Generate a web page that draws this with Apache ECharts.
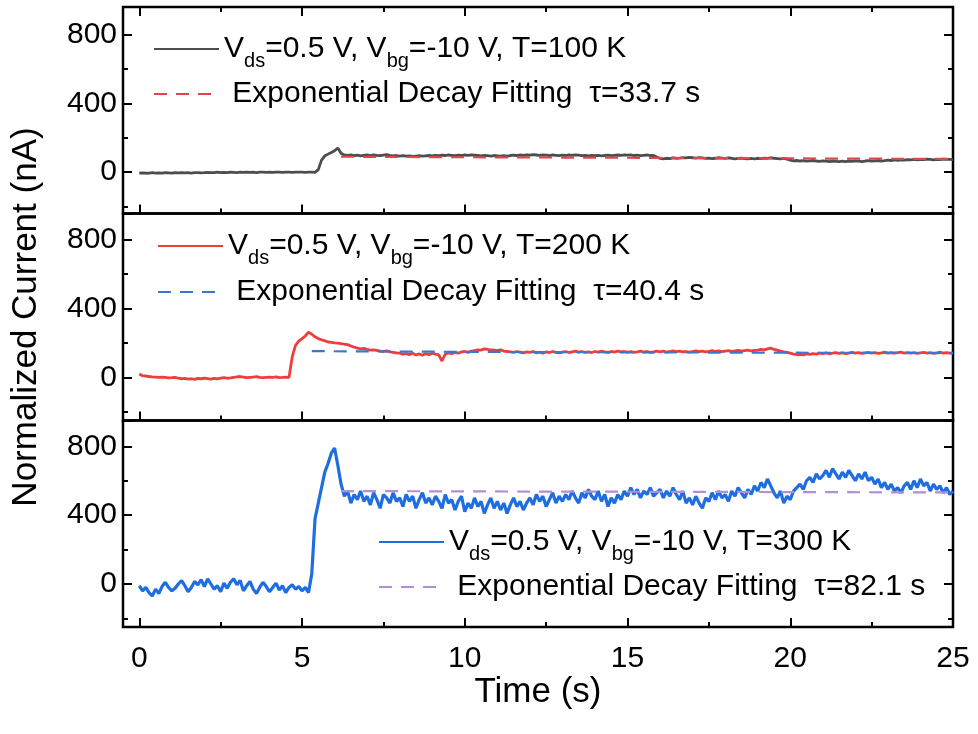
<!DOCTYPE html>
<html><head><meta charset="utf-8">
<script src="https://cdn.jsdelivr.net/npm/echarts@6/dist/echarts.min.js"></script>
<style>html,body{margin:0;padding:0;background:#fff}#c{width:978px;height:734px}</style>
</head><body><div id="c"></div>
<script>
// sampling grid of the recorded traces (s)
const timeStart = 0, timeStep = 0.1;

const current100K = [
-5,-4,-6,-5,-3,-5,-4,-6,-3,-4,
-5,-3,-4,-2,-4,-3,-5,-3,-2,-4,
-3,-1,-3,-2,0,-2,-1,-3,0,-1,
-2,0,-1,1,-1,0,-2,0,1,-1,
0,-1,1,0,-1,1,0,-1,0,1,
0,-1,0,1,-1,15,70,95,105,115,
125,140,110,100,98,100,96,99,95,98,
100,97,101,98,96,99,102,98,95,97,
94,96,93,95,92,94,96,93,95,97,
95,98,96,99,97,100,98,96,99,97,
100,98,101,99,97,95,98,96,94,97,
95,93,96,94,97,99,97,100,98,101,
99,102,100,98,101,99,97,100,98,96,
99,97,100,98,101,99,96,98,95,97,
96,98,95,97,99,96,98,100,98,101,
99,100,97,99,96,98,100,97,97,88,
80,78,81,79,83,80,82,85,83,86,
84,82,85,83,80,82,79,81,84,82,
80,83,81,78,80,82,79,77,80,78,
81,79,82,80,84,81,79,77,80,76,
70,66,68,65,67,64,66,68,65,63,
66,64,62,65,63,61,64,62,65,63,
66,64,62,65,67,64,66,68,65,67,
70,68,71,69,72,70,73,71,74,72,
75,73,76,74,72,75,73,76,74,75,
73];

const current200K = [
20,10,8,5,3,2,0,2,0,-3,
-2,0,-5,-8,-6,-10,-8,-12,-6,-8,
-5,-7,-10,-6,-9,-5,-2,-5,-3,0,
3,5,2,-2,0,2,4,0,-2,0,
2,0,3,-1,0,2,0,120,185,210,
225,240,262,250,235,225,218,212,205,203,
200,198,196,192,190,182,175,170,165,168,
162,158,160,156,152,150,154,148,145,142,
140,135,138,132,140,130,136,128,138,132,
140,135,130,95,135,142,138,145,140,148,
150,145,152,155,160,158,165,162,160,158,
155,160,152,150,148,145,150,146,142,148,
145,150,142,146,140,148,144,150,145,142,
146,150,144,148,152,146,150,145,148,144,
150,146,152,148,145,150,147,152,148,150,
146,150,145,148,152,147,150,145,148,152,
148,152,147,150,154,149,152,148,150,146,
150,154,149,152,148,151,155,150,153,149,
152,155,150,153,157,152,155,158,153,156,
158,162,160,165,170,162,158,152,148,145,
140,135,132,134,130,136,133,138,135,140,
138,142,137,140,144,139,142,138,141,145,
140,143,139,142,145,140,143,139,142,146,
141,144,140,143,146,141,144,140,143,139,
142,145,140,143,139,142,146,141,144,140,
142];

const current300K = [
-10,-40,-20,-50,-70,-30,-55,-15,10,-20,
-40,-25,0,20,-10,-45,-20,15,-5,25,
-15,30,0,-30,-10,-45,5,-25,10,30,
-5,20,-40,-10,15,-30,-55,-20,10,-15,
-45,-20,5,-35,-10,-50,-20,-5,-30,-15,
-40,-20,-50,60,380,470,560,650,700,760,
790,690,580,510,540,470,520,490,540,480,
510,460,530,490,440,520,500,470,530,480,
500,450,520,480,510,440,490,530,470,500,
460,510,480,440,520,470,490,430,480,510,
420,470,440,500,450,480,410,460,500,440,
480,430,470,410,460,500,450,480,430,470,
500,460,520,480,510,450,490,530,470,510,
480,520,490,540,500,470,530,500,550,510,
490,540,480,520,450,500,470,520,490,540,
510,560,520,550,500,540,520,560,510,530,
550,500,540,510,560,520,490,540,470,500,
460,510,470,440,500,480,530,490,540,500,
520,480,540,510,560,530,500,550,520,570,
540,590,560,610,570,530,500,540,470,510,
490,540,560,580,550,600,620,590,640,610,
630,660,620,670,640,610,650,620,660,630,
600,640,610,650,600,620,580,610,560,590,
550,580,540,560,530,570,590,550,600,560,
610,570,590,540,580,550,570,530,560,520,
540];

const fit100KTime = [6.2, 10, 15, 20, 25];
const fit100KValue = [90, 87, 84, 80, 77];
const fit200KTime = [5.3, 10, 15, 20, 25];
const fit200KValue = [152, 148, 145, 143, 141];
const fit300KTime = [6.2, 10, 15, 20, 25];
const fit300KValue = [540, 538, 536, 534, 532];

const xTickLabels = [0, 5, 10, 15, 20, 25];
const yTickLabels = [0, 400, 800];

const legendText = {
  T100: '{n|V}{s|ds}{n|=0.5 V, V}{s|bg}{n|=-10 V, T=100 K}',
  F100: '{n| Exponential Decay Fitting  τ=33.7 s}',
  T200: '{n|V}{s|ds}{n|=0.5 V, V}{s|bg}{n|=-10 V, T=200 K}',
  F200: '{n| Exponential Decay Fitting  τ=40.4 s}',
  T300: '{n|V}{s|ds}{n|=0.5 V, V}{s|bg}{n|=-10 V, T=300 K}',
  F300: '{n| Exponential Decay Fitting  τ=82.1 s}'
};

const FONT = '"Liberation Sans", Arial, Helvetica, sans-serif';
function trace(vals) { return vals.map((v, i) => [+(timeStart + i * timeStep).toFixed(2), v]); }
function zip(xs, ys) { return xs.map((x, i) => [x, ys[i]]); }

const grids = [
  {top: 7, height: 206.5, ymin: -240, ymax: 960},
  {top: 213.5, height: 207, ymin: -250, ymax: 950},
  {top: 420.5, height: 206.5, ymin: -250, ymax: 950}
];

const xAxes = [], yAxes = [];
function xAx(g, pos, step, len, labels, name) {
  xAxes.push({
    type: 'value', gridIndex: g, position: pos, min: -0.5, max: 25,
    minInterval: step, maxInterval: step, splitNumber: Math.round(25.5 / step),
    axisLine: {show: false, onZero: false}, splitLine: {show: false},
    axisTick: {show: true, inside: true, length: len, lineStyle: {color: '#000', width: 2}},
    axisLabel: {show: labels, margin: 17, color: '#000', fontSize: 30, fontFamily: FONT,
      formatter: v => xTickLabels.includes(v) ? String(v) : ''},
    name: name || '', nameLocation: 'middle', nameGap: 38,
    nameTextStyle: {color: '#000', fontSize: 35, fontFamily: FONT}
  });
  return xAxes.length - 1;
}
function yAx(g, pos, step, len, labels, name) {
  yAxes.push({
    type: 'value', gridIndex: g, position: pos, min: grids[g].ymin, max: grids[g].ymax,
    minInterval: step, maxInterval: step, splitNumber: Math.round(1200 / step),
    axisLine: {show: false, onZero: false}, splitLine: {show: false},
    axisTick: {show: true, inside: true, length: len, lineStyle: {color: '#000', width: 2}},
    axisLabel: {show: labels, margin: 6, color: '#000', fontSize: 30, fontFamily: FONT,
      formatter: v => yTickLabels.includes(v) ? String(v) : ''},
    name: name || '', nameLocation: 'middle', nameGap: 79, nameRotate: 90,
    nameTextStyle: {color: '#000', fontSize: 35, fontFamily: FONT}
  });
  return yAxes.length - 1;
}

const mainX = [], mainY = [];
for (let g = 0; g < 3; g++) {
  mainX[g] = xAx(g, 'bottom', 5, 9, g === 2, g === 2 ? 'Time (s)' : '');
  xAx(g, 'bottom', 2.5, 5, false);
  if (g === 0) { xAx(g, 'top', 5, 9, false); xAx(g, 'top', 2.5, 5, false); }
  mainY[g] = yAx(g, 'left', 400, 9, true, g === 1 ? 'Normalized Current (nA)' : '');
  yAx(g, 'left', 200, 5, false);
  yAx(g, 'right', 400, 9, false);
  yAx(g, 'right', 200, 5, false);
}

function lineSeries(name, g, data, color, width, dashed, z) {
  return {
    name, type: 'line', xAxisIndex: mainX[g], yAxisIndex: mainY[g], data,
    symbol: 'none', showSymbol: false, animation: false, z,
    lineStyle: {color, width, type: dashed ? [13, 9] : 'solid'},
    itemStyle: {color}
  };
}

const series = [
  lineSeries('T100', 0, trace(current100K), '#4d4d4d', 2.8, false, 2),
  lineSeries('F100', 0, zip(fit100KTime, fit100KValue), '#e0464b', 2.2, true, 3),
  lineSeries('T200', 1, trace(current200K), '#f03c3c', 2.8, false, 2),
  lineSeries('F200', 1, zip(fit200KTime, fit200KValue), '#3b76cf', 2.2, true, 3),
  lineSeries('T300', 2, trace(current300K), '#1e6ee1', 3.2, false, 2),
  lineSeries('F300', 2, zip(fit300KTime, fit300KValue), '#b48cd7', 2.2, true, 3)
];

const rich = {
  n: {fontSize: 30, lineHeight: 44, color: '#000', fontFamily: FONT},
  s: {fontSize: 20, lineHeight: 18, verticalAlign: 'bottom', color: '#000', fontFamily: FONT}
};
function leg(name, left, cy) {
  return {
    data: [name], left, top: cy - 13, orient: 'vertical', padding: 0,
    itemWidth: 65, itemHeight: 14, selectedMode: false,
    itemStyle: {opacity: 0, borderWidth: 0},
    formatter: n => legendText[n], textStyle: {rich, fontFamily: FONT}
  };
}

const option = {
  backgroundColor: '#fff',
  animation: false,
  grid: grids.map(g => ({left: 123, right: 25, top: g.top, height: g.height, show: true,
    borderColor: '#000', borderWidth: 2.5, backgroundColor: 'transparent', containLabel: false})),
  xAxis: xAxes,
  yAxis: yAxes,
  legend: [
    leg('T100', 153, 47), leg('F100', 153, 92),
    leg('T200', 157, 244), leg('F200', 157, 290),
    leg('T300', 378, 540), leg('F300', 378, 585)
  ],
  series
};

const chart = echarts.init(document.getElementById('c'), null, {renderer: 'canvas'});
chart.setOption(option);
</script>
</body></html>
